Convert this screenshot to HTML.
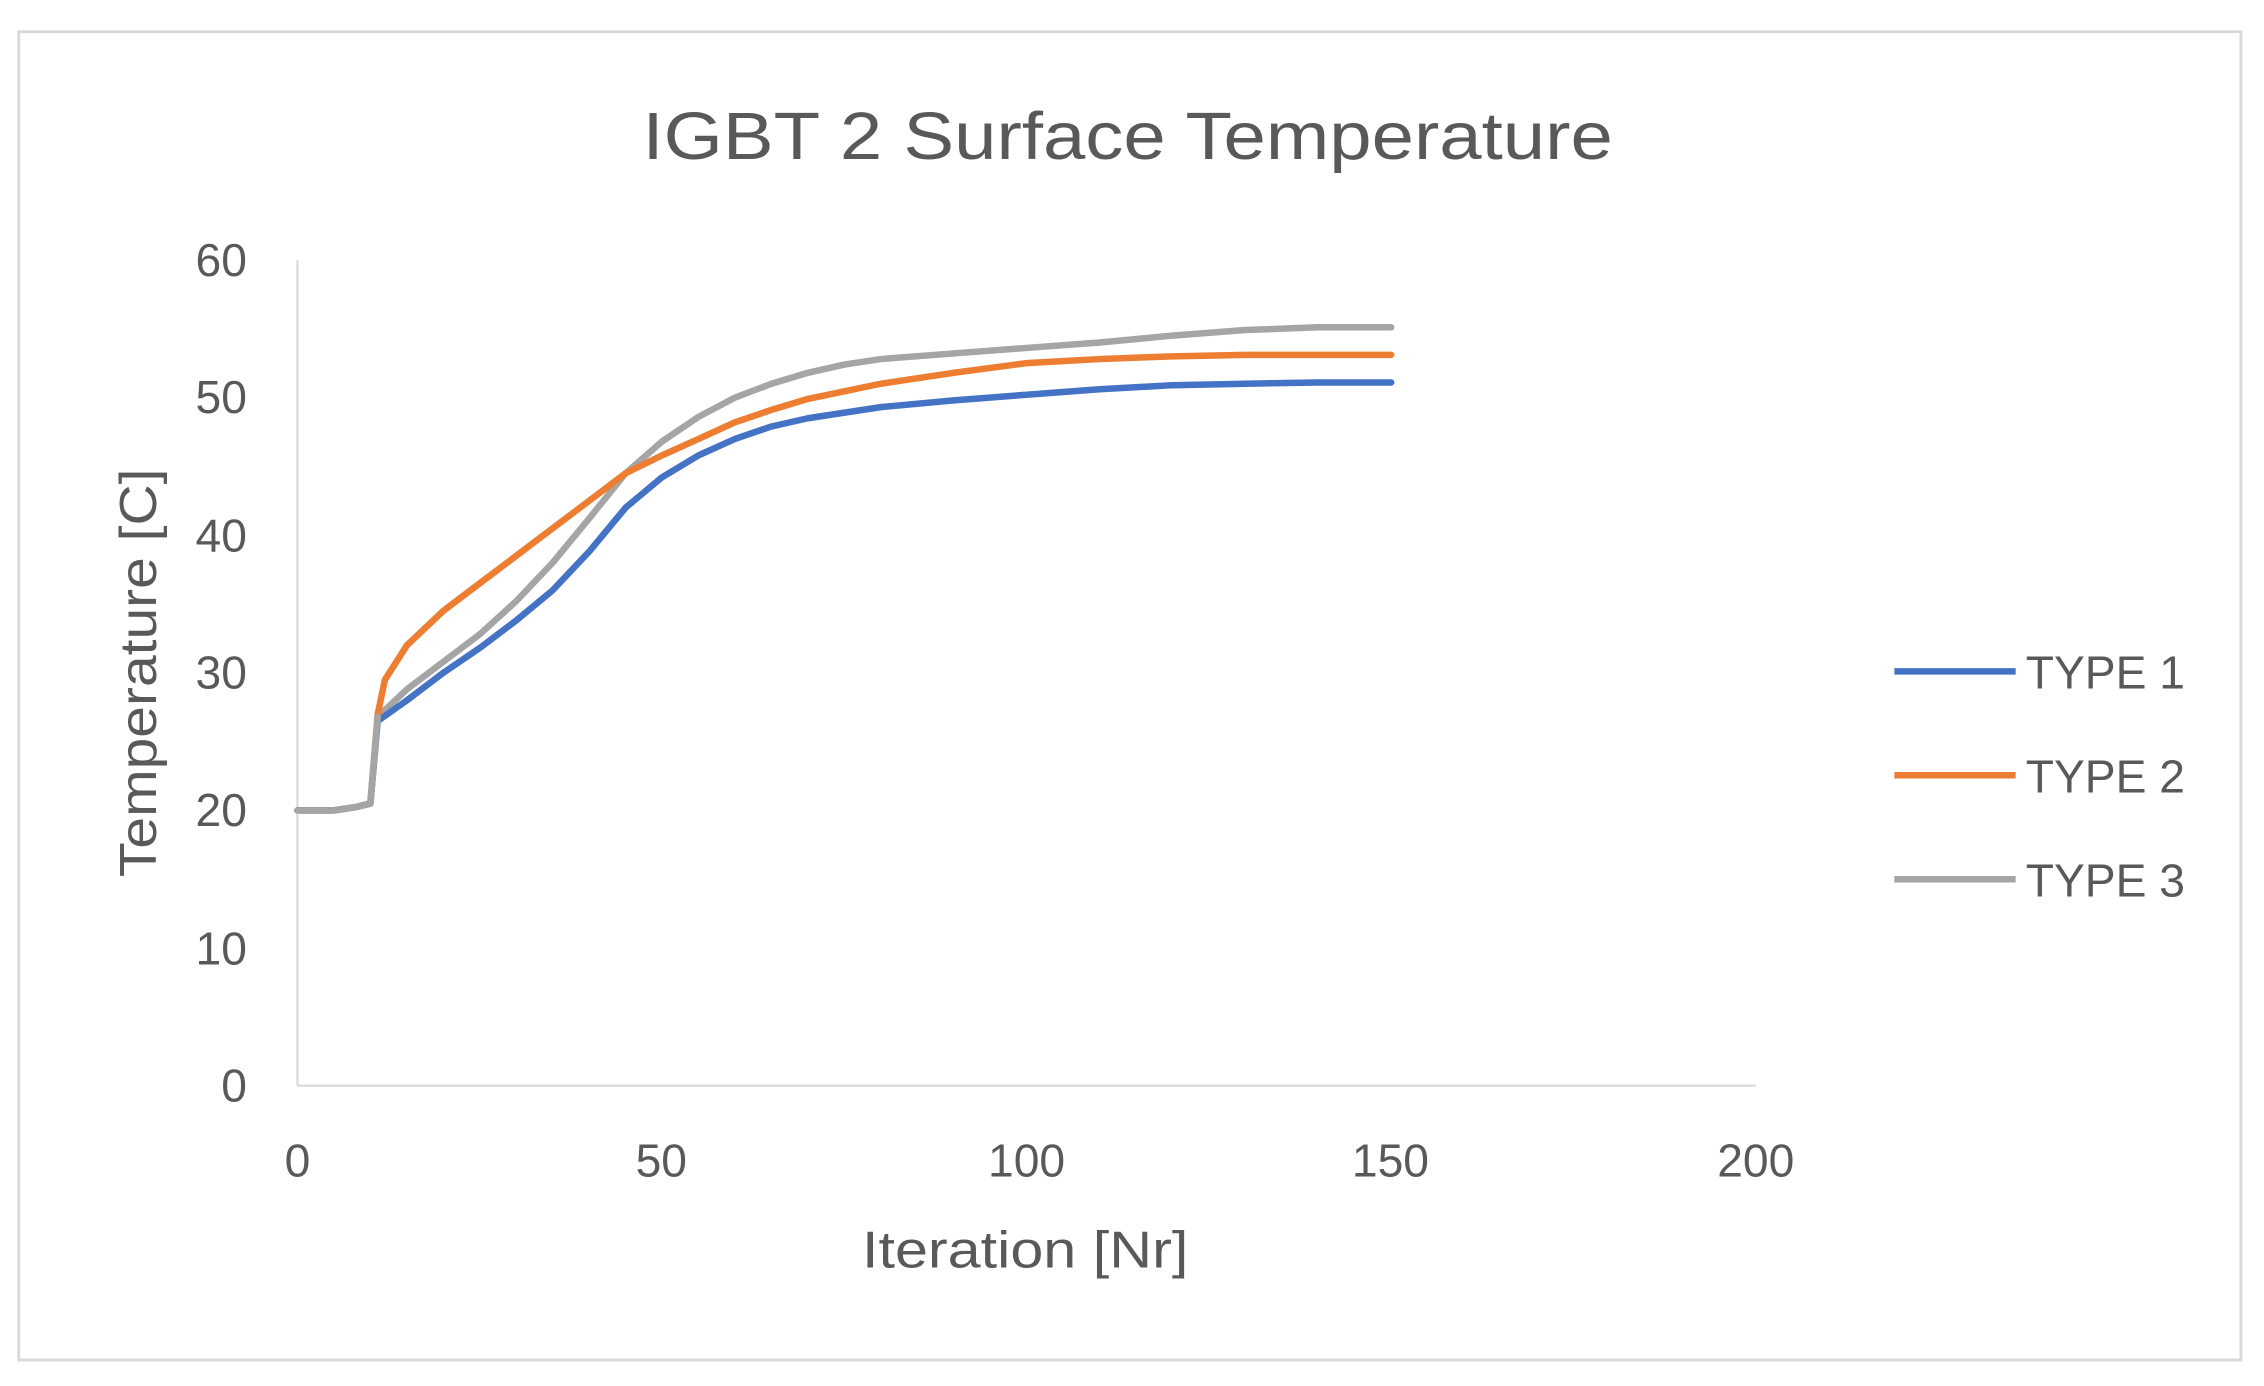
<!DOCTYPE html>
<html><head><meta charset="utf-8"><style>html,body{margin:0;padding:0;background:#fff}svg{display:block}</style></head>
<body>
<svg width="2264" height="1386" viewBox="0 0 1568 960" preserveAspectRatio="none" xmlns="http://www.w3.org/2000/svg" font-family="Liberation Sans, sans-serif">
<rect x="0" y="0" width="1568" height="960" fill="#fff"/>
<rect x="13" y="22" width="1539" height="920" fill="#fff" stroke="#d9d9d9" stroke-width="2"/>
<text x="781" y="110" text-anchor="middle" font-size="46" fill="#595959" textLength="672" lengthAdjust="spacingAndGlyphs">IGBT 2 Surface Temperature</text>
<g stroke="#d9d9d9" stroke-width="1.5">
<line x1="206" y1="180" x2="206" y2="752"/>
<line x1="206" y1="752" x2="1216" y2="752"/>
</g>
<g font-size="32" fill="#595959" text-anchor="end">
<text x="171" y="191">60</text><text x="171" y="286">50</text><text x="171" y="382">40</text>
<text x="171" y="477">30</text><text x="171" y="572">20</text><text x="171" y="668">10</text><text x="171" y="763">0</text>
</g>
<g font-size="32" fill="#595959" text-anchor="middle">
<text x="206" y="815">0</text><text x="458" y="815">50</text><text x="711" y="815">100</text>
<text x="963" y="815">150</text><text x="1216" y="815">200</text>
</g>
<text x="710" y="878" text-anchor="middle" font-size="36" fill="#595959" textLength="226" lengthAdjust="spacingAndGlyphs">Iteration [Nr]</text>
<text transform="translate(108,466) rotate(-90)" text-anchor="middle" font-size="36" fill="#595959" textLength="283" lengthAdjust="spacingAndGlyphs">Temperature [C]</text>
<g fill="none" stroke-width="4.5" stroke-linejoin="round" stroke-linecap="round">
<polyline stroke="#A5A5A5" points="206,561.3 231.3,561.3 246.4,559 256.5,556.6 261.6,496.5 281.8,477.5 307,458.4 332.3,439.3 357.5,416.4 382.8,389.7 408,359.2 433.3,327.8 458.5,305.8 483.8,288.7 509,275.4 534.3,265.8 559.5,258.2 584.8,252.5 610,248.7 660.5,244.8 711,241 761.5,237.2 812,232.5 862.5,228.6 913,226.7 963.5,226.7"/>
<polyline stroke="#ED7D31" points="206,561.3 231.3,561.3 246.4,559 256.5,556.6 261.6,494.6 266.6,470.8 281.8,447 307,423.1 332.3,404 357.5,385 382.8,365.9 408,346.9 433.3,327.8 458.5,315.4 483.8,304 509,292.5 534.3,283.9 559.5,276.3 610,265.8 660.5,258.2 711,251.5 761.5,248.7 812,246.8 862.5,245.8 963.5,245.8"/>
<polyline stroke="#4472C4" points="206,561.3 231.3,561.3 246.4,559 256.5,556.6 261.6,499.4 281.8,485.1 307,466 332.3,448.8 357.5,429.8 382.8,408.8 408,382.1 433.3,351.6 458.5,330.6 483.8,315.4 509,304 534.3,295.4 559.5,289.7 610,282 660.5,277.3 711,273.4 761.5,269.6 812,266.8 862.5,265.8 913,264.9 963.5,264.9"/>
<polyline stroke="#A5A5A5" points="206,561.3 231.3,561.3 246.4,559 256.5,556.6 261.6,496.5"/>
</g>
<g stroke-width="4.5">
<line x1="1312" y1="465" x2="1396" y2="465" stroke="#4472C4"/>
<line x1="1312" y1="537" x2="1396" y2="537" stroke="#ED7D31"/>
<line x1="1312" y1="609" x2="1396" y2="609" stroke="#A5A5A5"/>
</g>
<g font-size="32" fill="#595959">
<text x="1403" y="477">TYPE 1</text><text x="1403" y="549">TYPE 2</text><text x="1403" y="621">TYPE 3</text>
</g>
</svg>
</body></html>
